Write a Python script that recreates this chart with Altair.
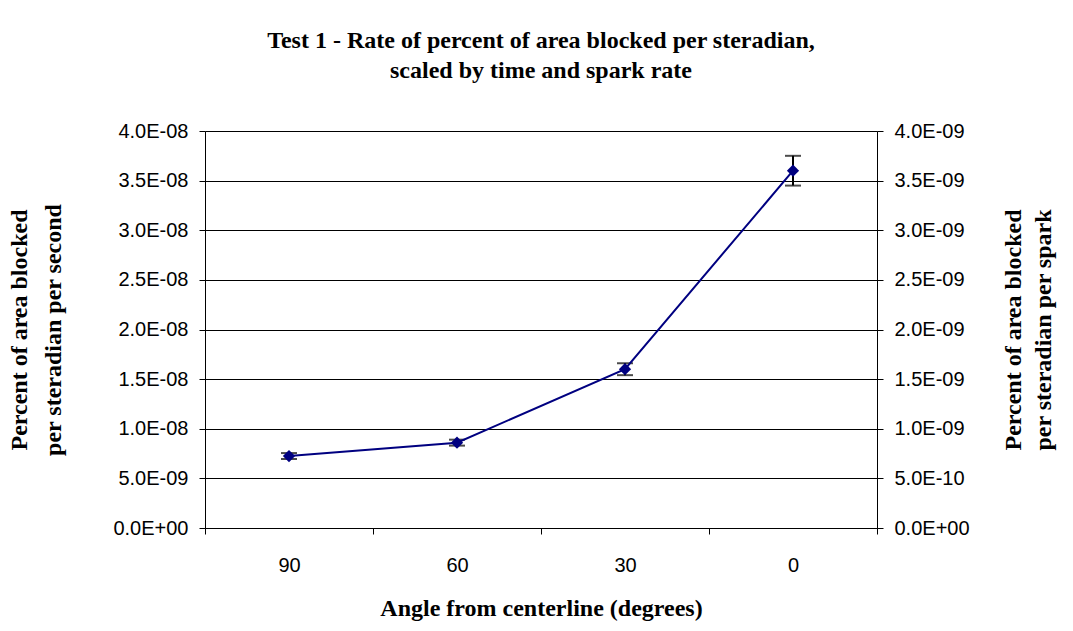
import json
import altair as alt
import pandas as pd

# ---- data ----
angles = ["90", "60", "30", "0"]
rate_per_second = [7.25e-9, 8.6e-9, 1.60e-8, 3.60e-8]
error = [3.0e-10, 3.0e-10, 6.0e-10, 1.5e-9]

left_ticks = [0, 5e-9, 1e-8, 1.5e-8, 2e-8, 2.5e-8, 3e-8, 3.5e-8, 4e-8]
left_labels = ["0.0E+00", "5.0E-09", "1.0E-08", "1.5E-08", "2.0E-08",
               "2.5E-08", "3.0E-08", "3.5E-08", "4.0E-08"]
right_ticks = [0, 5e-10, 1e-9, 1.5e-9, 2e-9, 2.5e-9, 3e-9, 3.5e-9, 4e-9]
right_labels = ["0.0E+00", "5.0E-10", "1.0E-09", "1.5E-09", "2.0E-09",
                "2.5E-09", "3.0E-09", "3.5E-09", "4.0E-09"]

title_lines = ["Test 1 - Rate of percent of area blocked per steradian,",
               "scaled by time and spark rate"]
left_title = ["Percent of area blocked", "per steradian per second"]
right_title = ["Percent of area blocked", "per steradian per spark"]
x_title = "Angle from centerline (degrees)"

df = pd.DataFrame({"angle": angles, "rate": rate_per_second, "err": error})

NAVY = "#000080"
SERIF = "Liberation Serif"
SANS = "Liberation Sans"
SERIF_SIZE = 24
LABEL_SIZE = 20

base = alt.Chart(df).transform_calculate(
    pos="indexof(" + json.dumps(angles) + ", datum.angle) + 0.5",
    lo="datum.rate - datum.err",
    hi="datum.rate + datum.err",
    spark="datum.rate / 10",
)

x_axis = alt.Axis(
    values=[0, 1, 2, 3, 4],
    labelExpr=json.dumps(angles + [""]) + "[datum.value]",
    labelOffset=84,
    labelFont=SANS, labelFontSize=LABEL_SIZE, labelColor="black",
    labelPadding=21, labelFlush=False, labelOverlap=False,
    tickSize=6, tickColor="black", domainColor="black",
    grid=False,
    title=x_title, titleFont=SERIF, titleFontSize=SERIF_SIZE, titleFontWeight="bold",
    titleColor="black", titlePadding=21,
)
x = alt.X("pos:Q", scale=alt.Scale(domain=[0, 4], nice=False, zero=False), axis=x_axis)

left_axis = alt.Axis(
    values=left_ticks,
    labelExpr=json.dumps(left_labels) + "[round(datum.value / 5e-9)]",
    labelFont=SANS, labelFontSize=LABEL_SIZE, labelColor="black", labelPadding=11,
    tickSize=6, tickColor="black", domainColor="black",
    grid=True, gridColor="black", gridWidth=1,
    title=left_title, titleFont=SERIF, titleFontSize=SERIF_SIZE, titleFontWeight="bold",
    titleColor="black", titleAngle=270, titlePadding=47, titleLineHeight=34,
)
yscale = alt.Scale(domain=[0, 4e-8], nice=False, zero=True)

err_rule = base.mark_rule(color="black", strokeWidth=2).encode(
    x=x, y=alt.Y("lo:Q", scale=yscale, axis=left_axis), y2="hi:Q")
cap_lo = base.mark_tick(color="black", thickness=2, size=16, orient="horizontal").encode(
    x=x, y=alt.Y("lo:Q", scale=yscale, axis=left_axis))
cap_hi = base.mark_tick(color="black", thickness=2, size=16, orient="horizontal").encode(
    x=x, y=alt.Y("hi:Q", scale=yscale, axis=left_axis))
line = base.mark_line(color=NAVY, strokeWidth=2).encode(
    x=x, y=alt.Y("rate:Q", scale=yscale, axis=left_axis))
pts = base.mark_point(shape="diamond", filled=True, color=NAVY, size=150, opacity=1).encode(
    x=x, y=alt.Y("rate:Q", scale=yscale, axis=left_axis))

left = alt.layer(err_rule, cap_lo, cap_hi, line, pts)

right_axis = alt.Axis(
    orient="right",
    values=right_ticks,
    labelExpr=json.dumps(right_labels) + "[round(datum.value / 5e-10)]",
    labelFont=SANS, labelFontSize=LABEL_SIZE, labelColor="black", labelPadding=11,
    tickSize=6, tickColor="black", domainColor="black",
    grid=False,
    title=right_title, titleFont=SERIF, titleFontSize=SERIF_SIZE, titleFontWeight="bold",
    titleColor="black", titleAngle=270, titlePadding=26, titleLineHeight=30,
)
right = base.mark_point(opacity=0).encode(
    x=x,
    y=alt.Y("spark:Q", scale=alt.Scale(domain=[0, 4e-9], nice=False, zero=True), axis=right_axis),
)

chart = alt.layer(left, right).resolve_scale(y="independent").properties(
    width=672,
    height=397,
    autosize=alt.AutoSizeParams(type="none"),
    padding={"left": 205, "top": 131, "right": 196, "bottom": 103},
    title=alt.Title(
        title_lines, font=SERIF, fontSize=SERIF_SIZE, fontWeight="bold", color="black",
        anchor="middle", offset=38, lineHeight=30,
    ),
).configure_view(stroke=None).configure(background="white")

chart.save("out.html", embed_options={"renderer": "svg", "actions": False})
